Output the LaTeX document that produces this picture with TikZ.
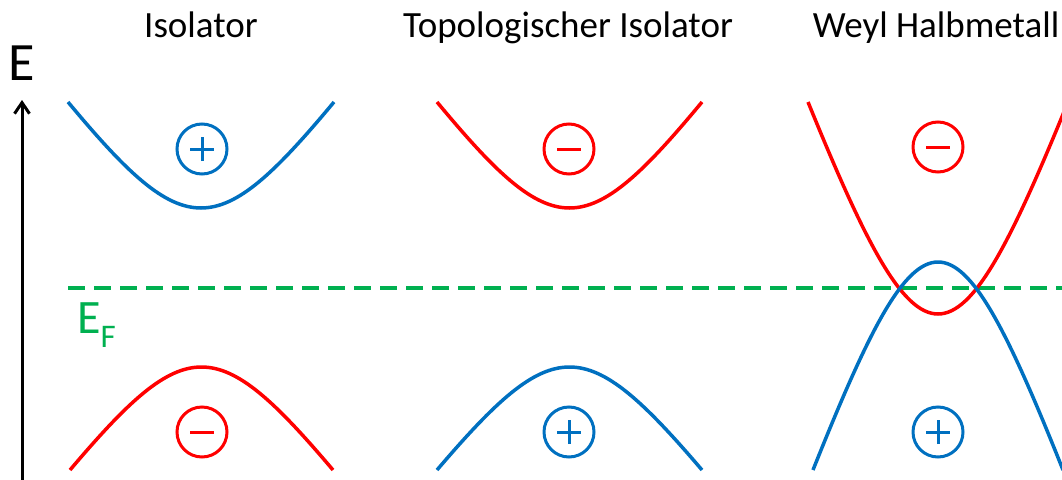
\documentclass[tikz,border=0pt]{standalone}
\usepackage{fontspec}
\setmainfont{Carlito}
\usetikzlibrary{arrows.meta}
\definecolor{bandblue}{RGB}{0,112,192}
\definecolor{bandred}{RGB}{255,0,0}
\definecolor{fermigreen}{RGB}{0,176,80}
\tikzset{
  band/.style={line width=3.5pt},
  title/.style={font=\fontsize{37}{42}\selectfont, anchor=base, inner sep=0pt},
  parity/.style={circle, draw, line width=3pt, minimum size=50pt, inner sep=0pt},
}
\newcommand{\plussign}[2]{\draw[#2, line width=3pt] ([xshift=-12pt]#1.center) -- ([xshift=12pt]#1.center) ([yshift=-12pt]#1.center) -- ([yshift=12pt]#1.center);}
\newcommand{\minussign}[2]{\draw[#2, line width=3pt] ([xshift=-12pt]#1.center) -- ([xshift=12pt]#1.center);}
% band curve: ends at x=#1 and x=#2 (height #3), extremum height #4, style #5, name prefix #6
\newcommand{\parab}[6]{%
  \pgfmathsetmacro{\cya}{#3+4/3*(#4-#3)}%
  \pgfmathsetmacro{\cxa}{#1+0.885*(#2-#1)/2}%
  \pgfmathsetmacro{\cxb}{#2-0.885*(#2-#1)/2}%
  \coordinate (#6s) at (#1,#3);
  \coordinate (#6e) at (#2,#3);
  \draw[#5] (#6s) .. controls (\cxa,\cya) and (\cxb,\cya) .. (#6e);}
\begin{document}
\begin{tikzpicture}[x=1pt,y=-1pt]
\useasboundingbox (0,0) rectangle (1062,479);
\clip (0,0) rectangle (1062,479);
% titles
\node[title] (t1) at (201,37) {Isolator};
\node[title] (t2) at (568,37) {Topologischer Isolator};
\node[title] (t3) at (936,37) {Weyl Halbmetall};
% energy axis
\node[font=\fontsize{54}{60}\selectfont, inner sep=0pt, anchor=base] (E) at (22,80) {E};
\coordinate (axbot) at (22,481);
\coordinate (axtop) at (22,100);
\draw[line width=3pt, -{Straight Barb[length=11pt,width=15pt,line width=3pt]}] (axbot) -- (axtop);
% Fermi level
\coordinate (efl) at (68,288);
\coordinate (efr) at (1064,288);
\draw[fermigreen, line width=3.5pt, dash pattern=on 17pt off 9pt] (efl) -- (efr);
\node[fermigreen, font=\fontsize{48}{56}\selectfont, inner sep=0pt, anchor=base west] (EF) at (77,333) {E\raisebox{-0.3em}{\fontsize{33}{40}\selectfont F}};
% Isolator
\parab{68}{334}{102}{208}{band, bandblue}{a}
\parab{70}{333}{470}{367}{band, bandred}{b}
\node[parity, bandblue] (p1) at (202,149) {}; \plussign{p1}{bandblue}
\node[parity, bandred] (m1) at (202,432) {}; \minussign{m1}{bandred}
% Topological insulator
\parab{437}{702}{102}{208}{band, bandred}{c}
\parab{437}{702}{470}{367}{band, bandblue}{d}
\node[parity, bandred] (m2) at (569,149) {}; \minussign{m2}{bandred}
\node[parity, bandblue] (p2) at (569,432) {}; \plussign{p2}{bandblue}
% Weyl semimetal
\parab{808}{1068}{102}{314}{band, bandred}{e}
\parab{813}{1063}{470}{262}{band, bandblue}{f}
\node[parity, bandred] (m3) at (938,147) {}; \minussign{m3}{bandred}
\node[parity, bandblue] (p3) at (938,432) {}; \plussign{p3}{bandblue}
\end{tikzpicture}
\end{document}
